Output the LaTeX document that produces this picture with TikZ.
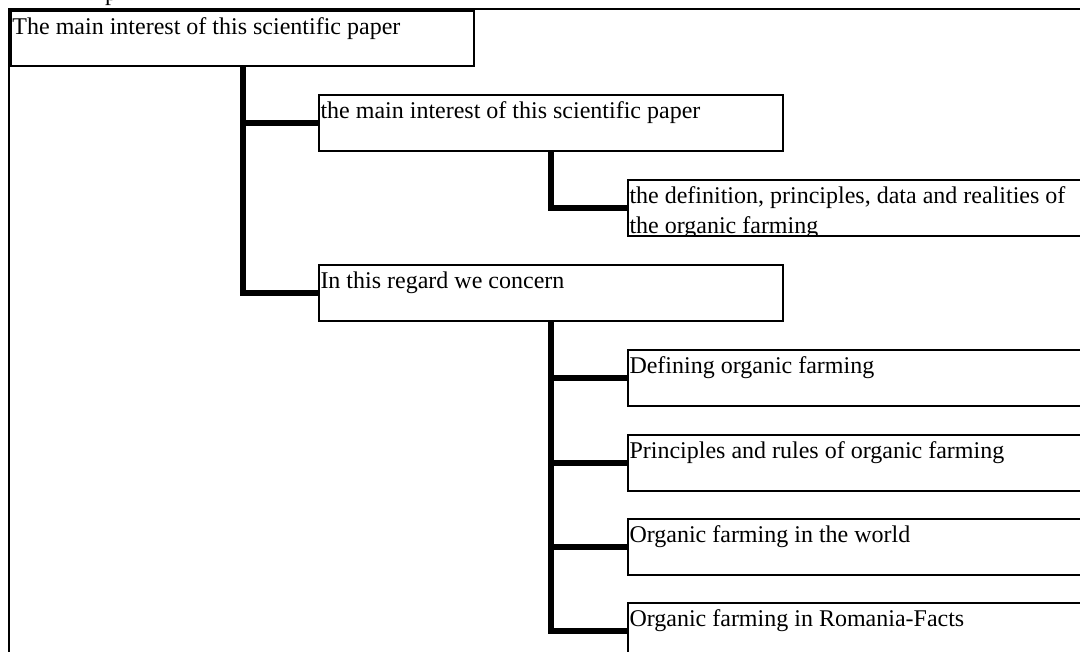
\documentclass[tikz,border=0pt]{standalone}
\usepackage{fontspec}
\setmainfont{Liberation Serif}
\begin{document}
\begin{tikzpicture}[x=1pt,y=-1pt,
  box/.style={draw=black,line width=1.8pt,rectangle,inner sep=0pt,outer sep=0pt,
              minimum width=464pt,minimum height=56pt,anchor=north west},
  txt/.style={anchor=base west,inner sep=0pt,outer sep=0pt,font=\fontsize{24}{30}\selectfont},
  conn/.style={line width=6pt},
  frame/.style={line width=2.5pt}]
\useasboundingbox (0,0) rectangle (1080,652);
\fill[white] (0,0) rectangle (1080,652);
% partially visible title text above the frame
\node[txt] (ptop) at (105,0.5) {p};
% outer frame
\coordinate (fr1) at (1090,9);
\coordinate (fr2) at (9,9);
\coordinate (fr3) at (9,665);
\draw[frame] (fr1) -- (fr2) -- (fr3);
% boxes
\node[box,minimum width=463pt,minimum height=55pt] (b1) at (11,11) {};
\node[box] (b2) at (319,95) {};
\node[box] (b3) at (319,265) {};
\node[box] (b4) at (628,180) {};
\node[box] (b5) at (628,350) {};
\node[box] (b6) at (628,435) {};
\node[box] (b7) at (628,519) {};
\node[box] (b8) at (628,603) {};
% texts
\node[txt] (t1) at ([xshift=1.5pt,yshift=-23.5pt]b1.north west) {The main interest of this scientific paper};
\node[txt] (t2) at ([xshift=1.5pt,yshift=-23.5pt]b2.north west) {the main interest of this scientific paper};
\node[txt] (t3) at ([xshift=1.5pt,yshift=-23.5pt]b3.north west) {In this regard we concern};
\begin{scope}
\clip (b4.north west) rectangle (b4.south east);
\node[txt] (t4a) at ([xshift=1.5pt,yshift=-23.5pt]b4.north west) {the definition, principles, data and realities of};
\node[txt] (t4b) at ([xshift=1.5pt,yshift=-54pt]b4.north west) {the organic farming};
\end{scope}
\node[txt] (t5) at ([xshift=1.5pt,yshift=-23.5pt]b5.north west) {Defining organic farming};
\node[txt] (t6) at ([xshift=1.5pt,yshift=-23.5pt]b6.north west) {Principles and rules of organic farming};
\node[txt] (t7) at ([xshift=1.5pt,yshift=-23.5pt]b7.north west) {Organic farming in the world};
\node[txt] (t8) at ([xshift=1.5pt,yshift=-23.5pt]b8.north west) {Organic farming in Romania-Facts};
% connectors
\draw[conn] (b1.south) |- (b2.west);
\draw[conn] (b1.south) |- (b3.west);
\draw[conn] (b2.south) |- (b4.west);
\draw[conn] (b3.south) |- (b5.west);
\draw[conn] (b3.south) |- (b6.west);
\draw[conn] (b3.south) |- (b7.west);
\draw[conn] (b3.south) |- (b8.west);
\end{tikzpicture}
\end{document}
